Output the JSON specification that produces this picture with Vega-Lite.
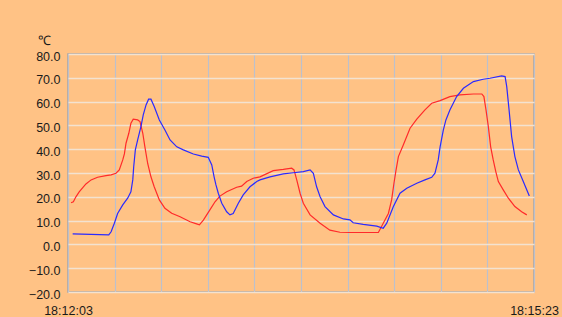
{
  "$schema": "https://vega.github.io/schema/vega-lite/v6.json",
  "width": 466,
  "height": 238,
  "autosize": "none",
  "padding": {"left": 68, "top": 54, "right": 28, "bottom": 25},
  "background": "#FFC285",
  "config": {
    "font": "Liberation Sans",
    "view": {"stroke": "#A4A4A8", "strokeWidth": 1.5, "fill": "#FFC285"}
  },
  "data": {
    "values": [
      {"ch": "CH1", "s": 1.3, "temp": 17.5},
      {"ch": "CH1", "s": 2.3, "temp": 17.9},
      {"ch": "CH1", "s": 3.4, "temp": 20.0},
      {"ch": "CH1", "s": 4.8, "temp": 22.1},
      {"ch": "CH1", "s": 7.7, "temp": 25.4},
      {"ch": "CH1", "s": 9.9, "temp": 27.1},
      {"ch": "CH1", "s": 12.7, "temp": 28.2},
      {"ch": "CH1", "s": 16.3, "temp": 28.9},
      {"ch": "CH1", "s": 18.5, "temp": 29.2},
      {"ch": "CH1", "s": 20.6, "temp": 29.9},
      {"ch": "CH1", "s": 22.0, "temp": 31.3},
      {"ch": "CH1", "s": 23.5, "temp": 35.5},
      {"ch": "CH1", "s": 24.2, "temp": 38.0},
      {"ch": "CH1", "s": 24.9, "temp": 42.5},
      {"ch": "CH1", "s": 26.1, "temp": 46.7},
      {"ch": "CH1", "s": 27.0, "temp": 50.9},
      {"ch": "CH1", "s": 28.0, "temp": 52.6},
      {"ch": "CH1", "s": 29.9, "temp": 52.3},
      {"ch": "CH1", "s": 30.9, "temp": 51.6},
      {"ch": "CH1", "s": 32.1, "temp": 46.7},
      {"ch": "CH1", "s": 33.0, "temp": 41.0},
      {"ch": "CH1", "s": 34.2, "temp": 34.0},
      {"ch": "CH1", "s": 35.6, "temp": 28.4},
      {"ch": "CH1", "s": 37.0, "temp": 24.2},
      {"ch": "CH1", "s": 39.2, "temp": 18.7},
      {"ch": "CH1", "s": 41.6, "temp": 15.2},
      {"ch": "CH1", "s": 44.5, "temp": 13.1},
      {"ch": "CH1", "s": 48.1, "temp": 11.6},
      {"ch": "CH1", "s": 52.4, "temp": 9.5},
      {"ch": "CH1", "s": 55.2, "temp": 8.6},
      {"ch": "CH1", "s": 56.4, "temp": 8.2},
      {"ch": "CH1", "s": 58.1, "temp": 10.2},
      {"ch": "CH1", "s": 60.9, "temp": 14.5},
      {"ch": "CH1", "s": 63.1, "temp": 17.9},
      {"ch": "CH1", "s": 65.2, "temp": 20.3},
      {"ch": "CH1", "s": 68.1, "temp": 22.1},
      {"ch": "CH1", "s": 72.4, "temp": 24.0},
      {"ch": "CH1", "s": 74.5, "temp": 24.5},
      {"ch": "CH1", "s": 76.7, "temp": 26.4},
      {"ch": "CH1", "s": 79.5, "temp": 27.8},
      {"ch": "CH1", "s": 82.4, "temp": 28.4},
      {"ch": "CH1", "s": 88.1, "temp": 31.0},
      {"ch": "CH1", "s": 92.4, "temp": 31.5},
      {"ch": "CH1", "s": 96.0, "temp": 32.0},
      {"ch": "CH1", "s": 97.0, "temp": 31.3},
      {"ch": "CH1", "s": 98.2, "temp": 27.0},
      {"ch": "CH1", "s": 99.6, "temp": 21.5},
      {"ch": "CH1", "s": 101.0, "temp": 17.3},
      {"ch": "CH1", "s": 103.9, "temp": 12.4},
      {"ch": "CH1", "s": 108.2, "temp": 8.9},
      {"ch": "CH1", "s": 112.4, "temp": 6.0},
      {"ch": "CH1", "s": 116.7, "temp": 5.1},
      {"ch": "CH1", "s": 121.0, "temp": 5.0},
      {"ch": "CH1", "s": 133.2, "temp": 5.0},
      {"ch": "CH1", "s": 135.3, "temp": 8.9},
      {"ch": "CH1", "s": 137.5, "temp": 13.0},
      {"ch": "CH1", "s": 138.9, "temp": 18.7},
      {"ch": "CH1", "s": 139.9, "temp": 25.7},
      {"ch": "CH1", "s": 140.8, "temp": 31.3},
      {"ch": "CH1", "s": 141.8, "temp": 36.9},
      {"ch": "CH1", "s": 143.9, "temp": 41.8},
      {"ch": "CH1", "s": 146.8, "temp": 48.8},
      {"ch": "CH1", "s": 149.7, "temp": 52.6},
      {"ch": "CH1", "s": 153.2, "temp": 56.5},
      {"ch": "CH1", "s": 156.1, "temp": 59.3},
      {"ch": "CH1", "s": 159.7, "temp": 60.4},
      {"ch": "CH1", "s": 163.9, "temp": 62.1},
      {"ch": "CH1", "s": 168.2, "temp": 62.8},
      {"ch": "CH1", "s": 174.0, "temp": 63.2},
      {"ch": "CH1", "s": 177.6, "temp": 63.2},
      {"ch": "CH1", "s": 178.5, "temp": 62.1},
      {"ch": "CH1", "s": 179.4, "temp": 56.5},
      {"ch": "CH1", "s": 180.4, "temp": 49.5},
      {"ch": "CH1", "s": 181.4, "temp": 41.0},
      {"ch": "CH1", "s": 182.5, "temp": 35.5},
      {"ch": "CH1", "s": 183.6, "temp": 30.6},
      {"ch": "CH1", "s": 184.7, "temp": 26.4},
      {"ch": "CH1", "s": 186.8, "temp": 22.9},
      {"ch": "CH1", "s": 189.0, "temp": 19.4},
      {"ch": "CH1", "s": 191.8, "temp": 15.9},
      {"ch": "CH1", "s": 194.7, "temp": 13.7},
      {"ch": "CH1", "s": 196.9, "temp": 12.4},
      {"ch": "CH2", "s": 2.0, "temp": 4.4},
      {"ch": "CH2", "s": 17.5, "temp": 4.0},
      {"ch": "CH2", "s": 18.5, "temp": 5.3},
      {"ch": "CH2", "s": 19.9, "temp": 8.9},
      {"ch": "CH2", "s": 21.3, "temp": 13.0},
      {"ch": "CH2", "s": 23.5, "temp": 16.6},
      {"ch": "CH2", "s": 25.6, "temp": 19.4},
      {"ch": "CH2", "s": 27.0, "temp": 22.1},
      {"ch": "CH2", "s": 27.8, "temp": 27.1},
      {"ch": "CH2", "s": 28.2, "temp": 32.6},
      {"ch": "CH2", "s": 28.9, "temp": 39.7},
      {"ch": "CH2", "s": 29.9, "temp": 43.9},
      {"ch": "CH2", "s": 31.3, "temp": 49.5},
      {"ch": "CH2", "s": 32.3, "temp": 54.4},
      {"ch": "CH2", "s": 33.5, "temp": 58.6},
      {"ch": "CH2", "s": 34.6, "temp": 61.0},
      {"ch": "CH2", "s": 35.6, "temp": 61.0},
      {"ch": "CH2", "s": 37.0, "temp": 57.9},
      {"ch": "CH2", "s": 39.2, "temp": 52.3},
      {"ch": "CH2", "s": 41.6, "temp": 48.1},
      {"ch": "CH2", "s": 43.8, "temp": 43.9},
      {"ch": "CH2", "s": 46.7, "temp": 41.0},
      {"ch": "CH2", "s": 49.5, "temp": 39.7},
      {"ch": "CH2", "s": 53.8, "temp": 38.0},
      {"ch": "CH2", "s": 57.4, "temp": 37.1},
      {"ch": "CH2", "s": 60.2, "temp": 36.6},
      {"ch": "CH2", "s": 61.7, "temp": 33.4},
      {"ch": "CH2", "s": 62.7, "temp": 28.4},
      {"ch": "CH2", "s": 63.5, "temp": 25.0},
      {"ch": "CH2", "s": 64.5, "temp": 21.5},
      {"ch": "CH2", "s": 66.0, "temp": 17.3},
      {"ch": "CH2", "s": 68.1, "temp": 13.7},
      {"ch": "CH2", "s": 69.5, "temp": 12.4},
      {"ch": "CH2", "s": 70.9, "temp": 13.0},
      {"ch": "CH2", "s": 73.1, "temp": 17.3},
      {"ch": "CH2", "s": 75.2, "temp": 20.8},
      {"ch": "CH2", "s": 78.1, "temp": 24.2},
      {"ch": "CH2", "s": 81.0, "temp": 26.4},
      {"ch": "CH2", "s": 82.4, "temp": 27.1},
      {"ch": "CH2", "s": 86.7, "temp": 28.4},
      {"ch": "CH2", "s": 92.4, "temp": 29.6},
      {"ch": "CH2", "s": 96.7, "temp": 30.1},
      {"ch": "CH2", "s": 101.0, "temp": 30.6},
      {"ch": "CH2", "s": 103.9, "temp": 31.3},
      {"ch": "CH2", "s": 105.3, "temp": 29.9},
      {"ch": "CH2", "s": 106.7, "temp": 24.2},
      {"ch": "CH2", "s": 108.2, "temp": 20.0},
      {"ch": "CH2", "s": 110.3, "temp": 15.9},
      {"ch": "CH2", "s": 113.9, "temp": 12.4},
      {"ch": "CH2", "s": 118.2, "temp": 10.7},
      {"ch": "CH2", "s": 121.0, "temp": 10.3},
      {"ch": "CH2", "s": 122.4, "temp": 9.1},
      {"ch": "CH2", "s": 126.7, "temp": 8.4},
      {"ch": "CH2", "s": 132.5, "temp": 7.7},
      {"ch": "CH2", "s": 135.3, "temp": 6.8},
      {"ch": "CH2", "s": 136.8, "temp": 8.9},
      {"ch": "CH2", "s": 139.6, "temp": 15.8},
      {"ch": "CH2", "s": 142.5, "temp": 21.5},
      {"ch": "CH2", "s": 145.4, "temp": 23.6},
      {"ch": "CH2", "s": 149.7, "temp": 25.7},
      {"ch": "CH2", "s": 153.2, "temp": 27.1},
      {"ch": "CH2", "s": 156.1, "temp": 28.2},
      {"ch": "CH2", "s": 157.5, "temp": 29.9},
      {"ch": "CH2", "s": 158.9, "temp": 35.5},
      {"ch": "CH2", "s": 159.7, "temp": 41.0},
      {"ch": "CH2", "s": 161.1, "temp": 48.1},
      {"ch": "CH2", "s": 162.2, "temp": 52.3},
      {"ch": "CH2", "s": 163.9, "temp": 56.5},
      {"ch": "CH2", "s": 166.8, "temp": 62.1},
      {"ch": "CH2", "s": 169.7, "temp": 65.6},
      {"ch": "CH2", "s": 174.0, "temp": 68.4},
      {"ch": "CH2", "s": 178.2, "temp": 69.4},
      {"ch": "CH2", "s": 181.1, "temp": 69.8},
      {"ch": "CH2", "s": 186.1, "temp": 70.8},
      {"ch": "CH2", "s": 187.6, "temp": 70.5},
      {"ch": "CH2", "s": 188.3, "temp": 66.3},
      {"ch": "CH2", "s": 189.3, "temp": 56.5},
      {"ch": "CH2", "s": 190.4, "temp": 45.3},
      {"ch": "CH2", "s": 191.8, "temp": 36.9},
      {"ch": "CH2", "s": 193.3, "temp": 31.3},
      {"ch": "CH2", "s": 195.4, "temp": 26.4},
      {"ch": "CH2", "s": 198.0, "temp": 20.3}
    ]
  },
  "mark": {"type": "line", "strokeWidth": 1.2, "interpolate": "linear"},
  "encoding": {
    "x": {
      "field": "s",
      "type": "quantitative",
      "scale": {"domain": [0, 200], "nice": false, "zero": false},
      "axis": {
        "title": null,
        "values": [0, 20, 40, 60, 80, 100, 120, 140, 160, 180, 200],
        "labelExpr": "datum.value == 0 || datum.value == 200 ? timeFormat(datetime(2000, 0, 1, 18, 12, 3 + datum.value), '%H:%M:%S') : ''",
        "labelFlush": false,
        "labelOverlap": false,
        "labelFont": "Liberation Sans",
        "labelFontSize": 12.5,
        "labelColor": "#1A1A1A",
        "labelPadding": 12,
        "ticks": false,
        "tickSize": 0,
        "domain": false,
        "grid": true,
        "gridColor": "#BCC0CC",
        "gridWidth": 1.2,
        "gridOpacity": 1
      }
    },
    "y": {
      "field": "temp",
      "type": "quantitative",
      "scale": {"domain": [-20, 80], "nice": false, "zero": false},
      "axis": {
        "title": "℃",
        "titleAngle": 0,
        "titleX": -24,
        "titleY": -14,
        "titleAlign": "center",
        "titleBaseline": "middle",
        "titleFont": "Liberation Sans",
        "titleFontSize": 13,
        "titleFontWeight": "normal",
        "titleColor": "#1A1A1A",
        "values": [-20, -10, 0, 10, 20, 30, 40, 50, 60, 70, 80],
        "format": ".1f",
        "labelFont": "Liberation Sans",
        "labelFontSize": 12.5,
        "labelColor": "#1A1A1A",
        "labelPadding": 8,
        "labelOffset": 2,
        "ticks": false,
        "tickSize": 0,
        "domain": false,
        "grid": true,
        "gridColor": "#F3E2D0",
        "gridWidth": 1.5,
        "gridOpacity": 1
      }
    },
    "color": {
      "field": "ch",
      "type": "nominal",
      "scale": {"domain": ["CH1", "CH2"], "range": ["#FF2A2A", "#2A2AFF"]},
      "legend": null
    }
  }
}
